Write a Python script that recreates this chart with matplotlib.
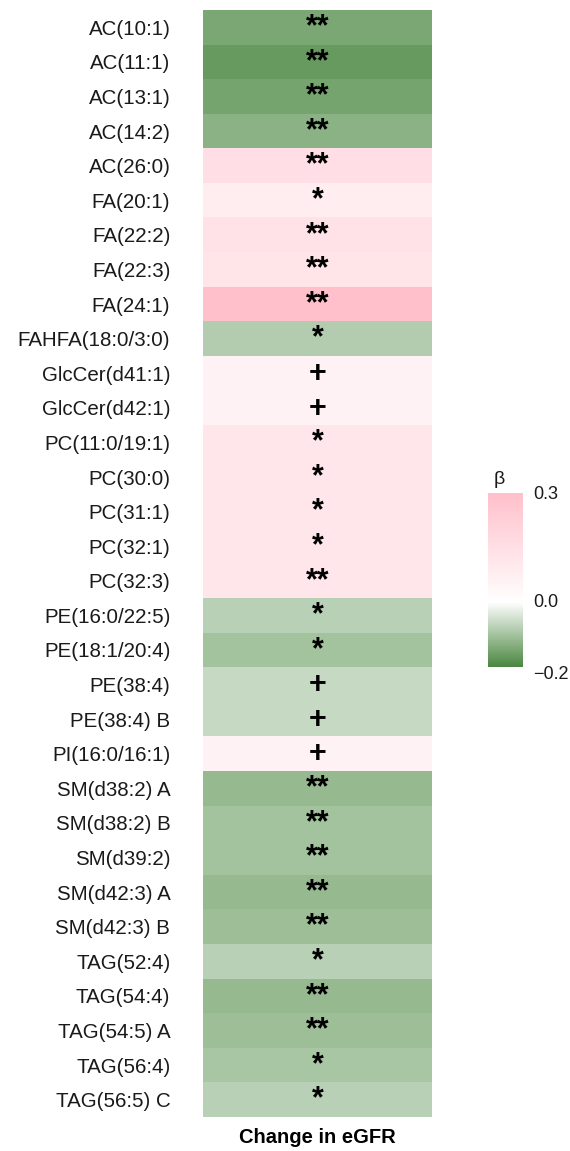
import numpy as np
import matplotlib
matplotlib.use("Agg")
import matplotlib.pyplot as plt
from matplotlib.colors import LinearSegmentedColormap, Normalize

lipids = ["AC(10:1)", "AC(11:1)", "AC(13:1)", "AC(14:2)", "AC(26:0)", "FA(20:1)",
          "FA(22:2)", "FA(22:3)", "FA(24:1)", "FAHFA(18:0/3:0)", "GlcCer(d41:1)",
          "GlcCer(d42:1)", "PC(11:0/19:1)", "PC(30:0)", "PC(31:1)", "PC(32:1)",
          "PC(32:3)", "PE(16:0/22:5)", "PE(18:1/20:4)", "PE(38:4)", "PE(38:4) B",
          "PI(16:0/16:1)", "SM(d38:2) A", "SM(d38:2) B", "SM(d39:2)", "SM(d42:3) A",
          "SM(d42:3) B", "TAG(52:4)", "TAG(54:4)", "TAG(54:5) A", "TAG(56:4)",
          "TAG(56:5) C"]
beta = [-0.13, -0.15, -0.135, -0.115, 0.15, 0.085, 0.135, 0.13, 0.30, -0.075,
        0.06, 0.06, 0.12, 0.12, 0.12, 0.12, 0.12, -0.07, -0.09, -0.055, -0.055,
        0.06, -0.104, -0.09, -0.09, -0.104, -0.095, -0.07, -0.104, -0.095, -0.085, -0.07]
signif = ["**", "**", "**", "**", "**", "*", "**", "**", "**", "*",
          "+", "+", "*", "*", "*", "*", "**", "*", "*", "+", "+",
          "+", "**", "**", "**", "**", "**", "*", "**", "**", "*", "*"]
cbar_ticks = [-0.2, 0.0, 0.3]

vmin, vmax = -0.18, 0.305
low = (74 / 255, 135 / 255, 64 / 255)
high = (1.0, 192 / 255, 203 / 255)
mid_pos = (0 - vmin) / (vmax - vmin)
cmap = LinearSegmentedColormap.from_list(
    "g2", [(0.0, low), (mid_pos, (1, 1, 1)), (1.0, high)])
norm = Normalize(vmin=vmin, vmax=vmax)

W, H = 570, 1151
fig = plt.figure(figsize=(W / 100, H / 100), dpi=100)
plt.rcParams['font.family'] = ['Liberation Sans', 'DejaVu Sans']

ax = fig.add_axes([203 / W, 1 - 1117 / H, (432 - 203) / W, (1117 - 10) / H])
n = len(lipids)
data = np.array(beta).reshape(-1, 1)
ax.imshow(data, cmap=cmap, norm=norm, aspect='auto',
          extent=(-0.5, 0.5, n - 0.5, -0.5), interpolation='nearest')
ax.set_xlim(-0.5, 0.5)
ax.set_ylim(n - 0.5, -0.5)
ax.set_yticks(range(n))
ax.set_yticklabels(lipids, fontsize=14.8, color='#1a1a1a')
ax.tick_params(axis='y', length=0, pad=23.5)
ax.set_xticks([])
for s in ax.spines.values():
    s.set_visible(False)

for i, sg in enumerate(signif):
    if sg == "+":
        ax.text(0, i + 0.02, sg, ha='center', va='center', fontsize=22,
                fontweight='bold', color='black')
    else:
        ax.text(0, i + 0.0, sg, ha='center', va='center', fontsize=22,
                fontweight='bold', color='black')

ax.set_xlabel("Change in eGFR", fontsize=14.5, fontweight='bold', labelpad=8)

cax = fig.add_axes([488 / W, 1 - 667 / H, (523 - 488) / W, (667 - 493) / H])
grad = np.linspace(vmin, vmax, 256).reshape(-1, 1)
cax.imshow(grad, cmap=cmap, norm=norm, aspect='auto', origin='lower',
           extent=(0, 1, vmin, vmax))
cax.set_xlim(0, 1)
cax.set_ylim(vmin, vmax)
cax.set_xticks([])
cax.set_yticks([])
for s in cax.spines.values():
    s.set_visible(False)
for t in cbar_ticks:
    cax.text(1.3, t, f"{t:.1f}".replace("-", "\u2212"), ha='left', va='center',
             fontsize=13, color='#1a1a1a', clip_on=False)
cax.text(0.15, 1.08, "β", transform=cax.transAxes, ha='left', va='center',
         fontsize=14, color='#1a1a1a')

fig.savefig("out.png", dpi=100)
